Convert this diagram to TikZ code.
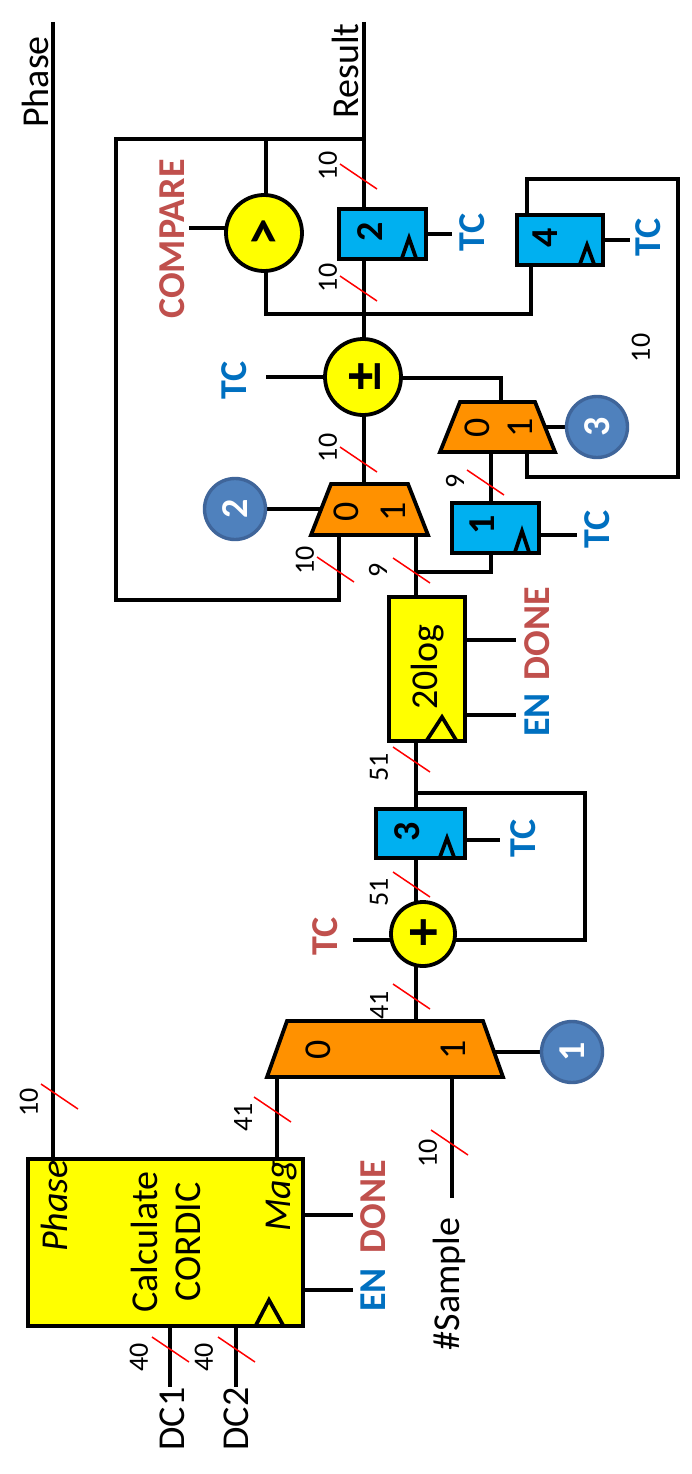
\documentclass[tikz,border=0pt]{standalone}
\usepackage{fontspec}
\setmainfont{Carlito}
\usetikzlibrary{shapes.geometric,backgrounds}
\definecolor{yel}{HTML}{FFFF00}
\definecolor{org}{HTML}{FF9100}
\definecolor{cy}{HTML}{00B0F0}
\definecolor{cblue}{HTML}{4F81BD}
\definecolor{cedge}{HTML}{3F659A}
\definecolor{tcblue}{HTML}{0070C0}
\definecolor{tcred}{HTML}{C0504D}
\tikzset{
  every node/.style={inner sep=0pt,outer sep=0pt},
  wire/.style={line width=3.7pt,line join=miter,line cap=butt},
  block/.style={draw,line width=3.8pt,line join=miter,rectangle,anchor=north west},
  ybox/.style={block,fill=yel},
  reg/.style={block,fill=cy},
  muxn/.style={rectangle},
  muxshape/.style={draw,line width=3.8pt,fill=org,line join=miter},
  opn/.style={draw,line width=3.8pt,fill=yel,ellipse},
  sel/.style={draw=cedge,line width=3.4pt,fill=cblue,ellipse,minimum width=61pt,minimum height=61pt,text=white,font=\fontsize{38}{42}\selectfont\bfseries},
  txt/.style={rotate=90,font=\fontsize{38}{42}\selectfont},
  bold/.style={txt,font=\fontsize{38}{42}\selectfont\bfseries},
  opsym/.style={txt,font=\fontsize{56}{60}\selectfont\bfseries},
  bl/.style={bold,text=tcblue},
  rd/.style={bold,text=tcred},
  num/.style={rotate=90,font=\fontsize{28}{32}\selectfont},
  slash/.style={red,line width=1.5pt},
  clk/.style={line width=3.7pt,line join=miter},
}
\newcommand{\busmark}[5]{\draw[slash] (#1,#2) -- ++(37,25);\node[num] (#5) at (#3,#4) {\addlabeltext};}
\newcommand{\addlabeltext}{}
\newcommand{\bm}[6]{\renewcommand{\addlabeltext}{#6}\busmark{#1}{#2}{#3}{#4}{#5}}
\newcommand{\muxdraw}[1]{\draw[muxshape] (#1.south west) -- (#1.south east) -- ([xshift=-20pt]#1.north east) -- ([xshift=20pt]#1.north west) -- cycle;}
\begin{document}
\begin{tikzpicture}[x=1pt,y=-1pt]
\useasboundingbox (0,0) rectangle (691,1474);
% blocks
\node[ybox,minimum width=275pt,minimum height=167pt] (cordic) at (28,1159) {};
\node[ybox,minimum width=76pt,minimum height=144pt] (flog) at (389,597) {};
\node[reg,minimum width=87pt,minimum height=50pt] (r2) at (339,209) {};
\node[reg,minimum width=86pt,minimum height=50pt] (r4) at (517,215) {};
\node[reg,minimum width=87pt,minimum height=50pt] (r1) at (452,503) {};
\node[reg,minimum width=89pt,minimum height=49pt] (r3) at (376,809) {};
\node[muxn,minimum width=236pt,minimum height=56pt] (m1) at (385,1049) {};
\node[muxn,minimum width=117pt,minimum height=51pt] (m2) at (369.5,509.5) {};
\node[muxn,minimum width=115pt,minimum height=50pt] (m3) at (497.5,427) {};
\muxdraw{m1}
\muxdraw{m2}
\muxdraw{m3}
\node[opn,minimum width=76pt,minimum height=76pt] (cmp) at (264,233) {};
\node[opn,minimum width=76pt,minimum height=76pt] (pm) at (363,377) {};
\node[opn,minimum width=64pt,minimum height=64pt] (add) at (423,934) {};
\node[sel] (s1) at (572,1052) {\rotatebox{90}{1}};
\node[sel] (s2) at (235,509) {\rotatebox{90}{2}};
\node[sel] (s3) at (597,427) {\rotatebox{90}{3}};
% free ends
\coordinate (phT) at (53,22);
\coordinate (reT) at (364,22);
\coordinate (fbL) at (116,139);
\coordinate (fbB) at (116,600);
\coordinate (cmpO) at (189,228);
\coordinate (cmpT) at (266,139);
\coordinate (busA) at (266,314);
\coordinate (bus4) at (531,314);
\coordinate (t4a) at (527,179);
\coordinate (t4b) at (678,179);
\coordinate (t4c) at (678,477);
\coordinate (t4d) at (527,477);
\coordinate (pmR) at (501,378);
\coordinate (pmT) at (266,377);
\coordinate (tcr2) at (452,234);
\coordinate (tcr4) at (630,240);
\coordinate (tcr1) at (577,535);
\coordinate (tcr3) at (500,840);
\coordinate (r1a) at (491,572);
\coordinate (mid) at (416,572);
\coordinate (fa) at (414,793);
\coordinate (fb) at (585,793);
\coordinate (fc) at (585,940);
\coordinate (addT) at (353,940);
\coordinate (x2) at (339,600);
\coordinate (fd) at (465,640);
\coordinate (fe) at (516,640);
\coordinate (ff) at (516,715);
\coordinate (cd) at (353,1215);
\coordinate (ce) at (353,1290);
\coordinate (mag) at (277,1100);
\coordinate (samp) at (452,1198);
\coordinate (dc1) at (170,1387);
\coordinate (dc2) at (236,1387);
% wires
\begin{scope}[on background layer]
\fill[white] (0,0) rectangle (691,1474);
\draw[wire] (phT) -- (phT |- cordic.north);
\draw[wire] (reT) -- (reT |- r2.north);
\draw[wire] (r2.south -| reT) -- (pm.north -| reT);
\draw[wire] (pm.south -| reT) -- (m2.north -| reT);
\draw[wire] (reT |- fbL) -- (fbL) -- (fbB) -- (x2) -- (x2 |- m2.south);
\draw[wire] (cmpT) -- (cmpT |- cmp.center);
\draw[wire] (cmpO) -- (cmpO -| cmp.center);
\draw[wire] (cmpT |- cmp.center) -- (busA) -- (bus4) -- (bus4 |- r4.south);
\draw[wire] (t4a |- r4.north) -- (t4a) -- (t4b) -- (t4c) -- (t4d) -- (t4d |- m3.south);
\draw[wire] (pm.center |- pmR) -- (pmR) -- (pmR |- m3.north);
\draw[wire] (pmT) -- (pmT -| pm.center);
\draw[wire] (r2.east |- tcr2) -- (tcr2);
\draw[wire] (r4.east |- tcr4) -- (tcr4);
\draw[wire] (r1.east |- tcr1) -- (tcr1);
\draw[wire] (r3.east |- tcr3) -- (tcr3);
\draw[wire] (m3.south -| r1a) -- (r1a |- r1.north);
\draw[wire] (r1.south -| r1a) -- (r1a) -- (mid);
\draw[wire] (m3.center -| s3.center) -- (m3.center);
\draw[wire] (s2.center) -- (m2.center |- s2.center);
\draw[wire] (mid |- m2.south) -- (mid |- flog.north);
\draw[wire] (mid |- flog.south) -- (mid |- r3.north);
\draw[wire] (fa) -- (fb) -- (fc) -- (fc -| add.center);
\draw[wire] (mid |- r3.south) -- (mid |- add.center);
\draw[wire] (mid |- add.center) -- (mid |- m1.north);
\draw[wire] (addT) -- (addT -| add.center);
\draw[wire] (flog.east |- fd) -- (fe);
\draw[wire] (flog.east |- ff) -- (ff);
\draw[wire] (cordic.east |- cd) -- (cd);
\draw[wire] (cordic.east |- ce) -- (ce);
\draw[wire] (mag |- m1.south) -- (mag |- cordic.north);
\draw[wire] (samp |- m1.south) -- (samp);
\draw[wire] (s1.center) -- (m1.center |- s1.center);
\draw[wire] (dc1 |- cordic.south) -- (dc1);
\draw[wire] (dc2 |- cordic.south) -- (dc2);
\end{scope}
% clock marks
\draw[clk] (256,1325) -- (269,1300) -- (283,1325);
\draw[clk] (427,740) -- (442,717) -- (456,740);
\draw[clk] (402,258) -- (409,238) -- (416,258);
\draw[clk] (580,264) -- (587,245) -- (594,264);
\draw[clk] (515,552) -- (522,531) -- (529,552);
\draw[clk] (440,857) -- (447,838) -- (454,857);
% texts
\node[txt] (tPhase) at (35,82) {Phase};
\node[txt] (tResult) at (345,71) {Result};
\node[txt] (tCalc) at (144,1242) {Calculate};
\node[txt] (tCord) at (188,1242) {CORDIC};
\node[txt,font=\fontsize{38}{42}\selectfont\itshape] (tPh) at (54,1206) {Phase};
\node[txt,font=\fontsize{38}{42}\selectfont\itshape] (tMag) at (282,1196) {Mag};
\node[txt] (tDC1) at (172,1419) {DC1};
\node[txt] (tDC2) at (236,1419) {DC2};
\node[txt] (tSam) at (449,1284) {\#Sample};
\node[txt] (t20) at (428,667) {20log};
\node[rd] (tCmp) at (172,239) {COMPARE};
\node[rd] (tDone1) at (373,1207) {DONE};
\node[bl] (tEn1) at (373,1290) {EN};
\node[rd] (tDone2) at (537,634) {DONE};
\node[bl] (tEn2) at (537,715) {EN};
\node[bl] (tTc1) at (234,380) {TC};
\node[bl] (tTc2) at (472,232) {TC};
\node[bl] (tTc3) at (648,237) {TC};
\node[bl] (tTc4) at (597,529) {TC};
\node[bl] (tTc5) at (523,838) {TC};
\node[rd] (tTc6) at (325,936) {TC};
\node[bold] (n2) at (370,232) {2};
\node[bold] (n4) at (545,238) {4};
\node[bold] (n1) at (482,525) {1};
\node[bold] (n3) at (407,832) {3};
\node[opsym] (oc) at (266,233) {>};
\node[opsym] (op) at (366,377) {±};
\node[opsym] (oa) at (426,933) {+};
\node[txt] (m1a) at (318,1050) {0};
\node[txt] (m1b) at (453,1050) {1};
\node[txt] (m2a) at (346,512) {0};
\node[txt] (m2b) at (393,512) {1};
\node[txt] (m3a) at (477,428) {0};
\node[txt] (m3b) at (520,428) {1};
% bus marks
\bm{41}{1084}{29}{1102}{b1}{10}
\bm{254}{1097}{243}{1117}{b2}{41}
\bm{431}{1130}{428}{1153}{b3}{10}
\bm{152}{1337}{139}{1357}{b4}{40}
\bm{218}{1337}{204}{1357}{b5}{40}
\bm{393}{984}{379}{1005}{b6}{41}
\bm{393}{872}{379}{892}{b7}{51}
\bm{393}{747}{379}{767}{b8}{51}
\bm{393}{558}{378}{570}{b9}{9}
\bm{317}{557}{305}{560}{b10}{10}
\bm{467}{470}{455}{481}{b11}{9}
\bm{340}{447}{328}{448}{b12}{10}
\bm{340}{276}{328}{278}{b13}{10}
\bm{340}{164}{328}{166}{b14}{10}
\node[num] (free10) at (641,348) {10};
\end{tikzpicture}
\end{document}
